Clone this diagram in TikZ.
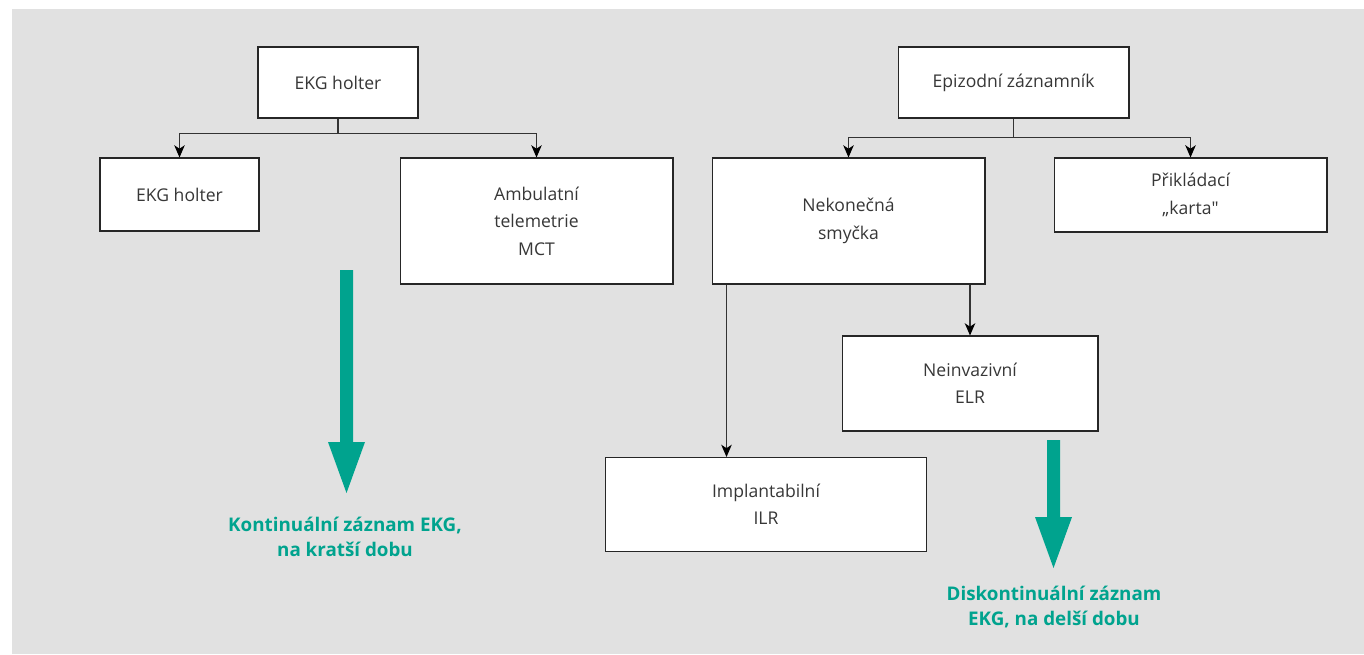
\documentclass[tikz,border=0pt]{standalone}
\usepackage{fontspec}
\setmainfont{Open Sans}
\newfontfamily\plainquote{Open Sans}[Ligatures=TeXOff]
\usetikzlibrary{arrows.meta}
\definecolor{bggray}{RGB}{225,225,225}
\definecolor{ekggreen}{RGB}{0,163,142}
\definecolor{boxtext}{RGB}{55,55,55}
\tikzset{
  devbox/.style={draw=black!85, fill=white, line width=0.6pt, inner sep=0pt,
    align=center, text=boxtext, font=\fontsize{10}{15.6}\selectfont},
  arr/.style={draw=black!80, line width=0.6pt,
    -{Stealth[length=7pt,width=6pt,inset=2pt,black]}},
  note/.style={align=center, text=ekggreen,
    font=\bfseries\fontsize{10.7}{14.2}\selectfont}
}
\begin{document}
\begin{tikzpicture}[x=0.02cm,y=-0.02cm]
\useasboundingbox (0,0) rectangle (1364,654);
\fill[bggray] (12,9) rectangle (1364,654);

% continuous devices
\node[devbox, minimum width=3.2cm, minimum height=1.42cm] (holterTop) at (338,82.5) {EKG holter};
\node[devbox, minimum width=3.18cm, minimum height=1.46cm] (holter) at (179.5,194.5) {EKG holter};
\node[devbox, minimum width=5.46cm, minimum height=2.52cm] (mct) at (536.5,221) {Ambulatní\\telemetrie\\MCT};
\draw[arr] (holterTop.south) -- ++(0,15) -| (holter.north);
\draw[arr] (holterTop.south) -- ++(0,15) -| (mct.north);

% episodic devices
\node[devbox, minimum width=4.62cm, minimum height=1.42cm] (epi) at (1013.5,82.5) {Epizodní záznamník};
\node[devbox, minimum width=5.46cm, minimum height=2.52cm] (loop) at (848.5,221) {Nekonečná\\smyčka};
\node[devbox, minimum width=5.46cm, minimum height=1.48cm] (card) at (1190.5,195) {Přikládací\\„karta{\plainquote"}};
\node[devbox, minimum width=5.12cm, minimum height=1.9cm] (elr) at (970,383.5) {Neinvazivní\\ELR};
\node[devbox, minimum width=6.42cm, minimum height=1.88cm] (ilr) at (766,504.5) {Implantabilní\\ILR};
\draw[arr] (epi.south) -- ++(0,19) -| (loop.north);
\draw[arr] (epi.south) -- ++(0,19) -| (card.north);
\draw[arr] (loop.south -| elr.north) -- (elr.north);
\draw[arr] ([xshift=0.3cm]loop.south west) -- ([xshift=0.3cm]loop.south west |- ilr.north);

% big green arrows
\fill[ekggreen] (340,270) -- (353,270) -- (353,442) -- (365,442) -- (346.5,493)
  -- (328,442) -- (340,442) -- cycle;
\fill[ekggreen] (1047,440) -- (1060,440) -- (1060,517) -- (1072,517) -- (1053.5,568)
  -- (1035,517) -- (1047,517) -- cycle;
\node[note] (contNote) at (345,536.5) {Kontinuální záznam EKG,\\na kratší dobu};
\node[note] (discNote) at (1054,607) {Diskontinuální záznam\\EKG, na delší dobu};
\end{tikzpicture}
\end{document}
